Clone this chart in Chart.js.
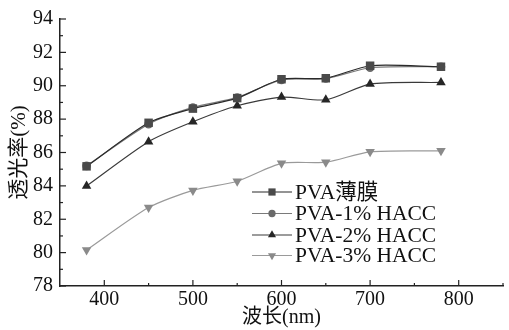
<!DOCTYPE html>
<html>
<head>
<meta charset="utf-8">
<script src="https://cdn.jsdelivr.net/npm/chart.js@4"></script>
<style>
  html, body { margin: 0; padding: 0; background: #fff; }
  #wrap { width: 509px; height: 330px; }
</style>
</head>
<body>
<div id="wrap"><canvas id="c" width="509" height="330"></canvas></div>
<script>
// wavelength (nm) and transmittance (%)
const wavelengths = [380, 450, 500, 550, 600, 650, 700, 780];
const pva = [85.17, 87.78, 88.63, 89.26, 90.39, 90.45, 91.2, 91.14];
const pva1 = [85.2, 87.7, 88.7, 89.3, 90.35, 90.43, 91.08, 91.14];
const pva2 = [84.0, 86.65, 87.84, 88.8, 89.32, 89.16, 90.1, 90.2];
const pva3 = [80.15, 82.7, 83.73, 84.28, 85.35, 85.42, 86.04, 86.1];
const seriesNames = ["PVA薄膜", "PVA-1% HACC", "PVA-2% HACC", "PVA-3% HACC"];
const xTicks = [400, 500, 600, 700, 800];
const yTicks = [78, 80, 82, 84, 86, 88, 90, 92, 94];

const FONT = "'Liberation Serif', 'Noto Sans CJK SC', serif";

const styles = [
  { line: "#2a2a2a", fill: "#4a4a4a", pt: "rect", r: 6 },
  { line: "#7a7a7a", fill: "#6a6a6a", pt: "circle", r: 4.3 },
  { line: "#3a3a3a", fill: "#262626", pt: "triangle", r: 5.5 },
  { line: "#9a9a9a", fill: "#8a8a8a", pt: "triangle", r: 5.5, rot: 180 },
];

function makeSet(name, vals, s) {
  return {
    label: name,
    data: wavelengths.map((x, i) => ({ x: x, y: vals[i] })),
    borderColor: s.line,
    backgroundColor: s.fill,
    borderWidth: 1.2,
    pointStyle: s.pt,
    pointRotation: s.rot || 0,
    pointRadius: s.r,
    pointBorderWidth: 0,
    pointBackgroundColor: s.fill,
    tension: 0.25,
    fill: false,
  };
}

// inward ticks (major + minor) and the in-plot legend
const decor = {
  id: "decor",
  afterDraw(chart) {
    const ctx = chart.ctx;
    const xs = chart.scales.x, ys = chart.scales.y;
    const area = chart.chartArea;
    ctx.save();
    ctx.strokeStyle = "#222";
    ctx.lineWidth = 1.2;
    for (let v = 78; v <= 94; v++) {
      const py = ys.getPixelForValue(v);
      const len = v % 2 === 0 ? 6 : 3;
      ctx.beginPath();
      ctx.moveTo(area.left, py);
      ctx.lineTo(area.left + len, py);
      ctx.stroke();
    }
    for (let v = 400; v <= 850; v += 50) {
      const px = xs.getPixelForValue(v);
      const len = v % 100 === 0 ? 6 : 3;
      ctx.beginPath();
      ctx.moveTo(px, area.bottom);
      ctx.lineTo(px, area.bottom - len);
      ctx.stroke();
    }

    const lx = 252, rowY = [192, 213.5, 235, 255.5];
    ctx.font = "21.5px " + FONT;
    ctx.textBaseline = "middle";
    chart.data.datasets.forEach((ds, i) => {
      const y = rowY[i];
      ctx.strokeStyle = ds.borderColor;
      ctx.lineWidth = 1.2;
      ctx.beginPath();
      ctx.moveTo(lx, y);
      ctx.lineTo(lx + 40, y);
      ctx.stroke();
      ctx.fillStyle = ds.pointBackgroundColor;
      const s = styles[i];
      Chart.helpers.drawPoint(ctx, { pointStyle: s.pt, rotation: s.rot || 0, radius: s.r * 0.85, borderWidth: 0 }, lx + 20, y);
      ctx.fillStyle = "#111";
      ctx.fillText(ds.label, lx + 43, y + 1);
    });
    ctx.restore();
  },
};

new Chart(document.getElementById("c"), {
  type: "line",
  data: {
    datasets: [
      makeSet(seriesNames[0], pva, styles[0]),
      makeSet(seriesNames[1], pva1, styles[1]),
      makeSet(seriesNames[2], pva2, styles[2]),
      makeSet(seriesNames[3], pva3, styles[3]),
    ],
  },
  options: {
    responsive: false,
    animation: false,
    layout: { padding: { top: 6, right: 4, left: 7, bottom: 0 } },
    plugins: {
      legend: { display: false },
      tooltip: { enabled: false },
    },
    scales: {
      x: {
        type: "linear",
        min: 350,
        max: 850,
        afterBuildTicks: (s) => { s.ticks = xTicks.map((v) => ({ value: v })); },
        afterFit: (s) => { s.height = 44; },
        grid: { display: true, drawOnChartArea: false, drawTicks: false },
        border: { display: true, color: "#222", width: 1.5 },
        ticks: { color: "#111", font: { family: FONT, size: 20 }, padding: 2, maxRotation: 0 },
        title: {
          display: true,
          text: "波长(nm)",
          color: "#111",
          font: { family: FONT, size: 20 },
          padding: { top: -2, bottom: 0 },
        },
      },
      y: {
        min: 78,
        max: 94,
        afterBuildTicks: (s) => { s.ticks = yTicks.map((v) => ({ value: v })); },
        afterFit: (s) => { s.width = 53; },
        grid: { display: true, drawOnChartArea: false, drawTicks: false },
        border: { display: true, color: "#222", width: 1.5 },
        ticks: { color: "#111", font: { family: FONT, size: 20 }, padding: 7 },
        title: {
          display: true,
          text: "透光率(%)",
          color: "#111",
          font: { family: FONT, size: 21 },
          padding: { top: 0, bottom: 0 },
        },
      },
    },
  },
  plugins: [decor],
});
</script>
</body>
</html>
